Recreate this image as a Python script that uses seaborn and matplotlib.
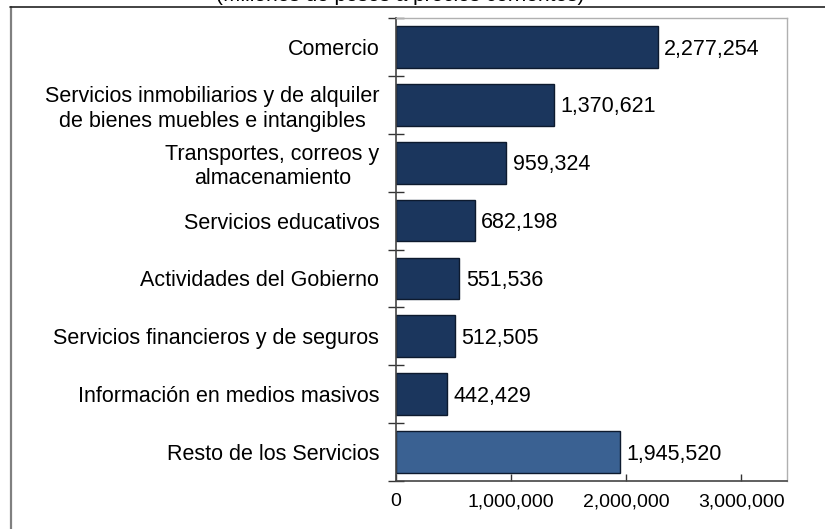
import matplotlib
matplotlib.use("Agg")
import matplotlib.pyplot as plt
import seaborn as sns
import pandas as pd
from matplotlib.lines import Line2D
from matplotlib.ticker import FuncFormatter, FixedLocator

categories = [
    "Comercio",
    "Servicios inmobiliarios y de alquiler\nde bienes muebles e intangibles",
    "Transportes, correos y\nalmacenamiento",
    "Servicios educativos",
    "Actividades del Gobierno",
    "Servicios financieros y de seguros",
    "Información en medios masivos",
    "Resto de los Servicios",
]
values = [2277254, 1370621, 959324, 682198, 551536, 512505, 442429, 1945520]
bar_colors = ["#1b365d"] * 7 + ["#3a6192"]
x_ticks = [0, 1000000, 2000000, 3000000]
title = "(Millones de pesos a precios corrientes)"

sns.set_style("white")
plt.rcParams["font.family"] = ["Liberation Sans", "DejaVu Sans"]

fig = plt.figure(figsize=(8.25, 5.29), dpi=100)
ax = fig.add_axes([396 / 825, 1 - 481 / 529, (787.3 - 396) / 825, (481 - 18) / 529])

df = pd.DataFrame({"cat": categories, "val": values})
sns.barplot(data=df, x="val", y="cat", hue="cat", palette=bar_colors, legend=False,
            orient="h", width=0.72, edgecolor="#0d1a2e", linewidth=1.0, ax=ax, saturation=1)

ax.set_xlim(0, 3400000)
ax.set_ylim(len(categories) - 0.5, -0.5)
ax.set_xlabel("")
ax.set_ylabel("")

ax.xaxis.set_major_locator(FixedLocator(x_ticks))
ax.xaxis.set_major_formatter(FuncFormatter(lambda v, p: f"{int(v):,}"))
ax.tick_params(axis="x", bottom=True, direction="in", length=5, width=1, colors="#333333",
               labelcolor="black", labelsize=14, pad=9)

# y ticks at category boundaries, labels at centers
ax.set_yticks([i + 0.5 for i in range(-1, len(categories))])
ax.set_yticklabels([])
ax.set_yticks(range(len(categories)), minor=True)
ax.set_yticklabels(categories, minor=True, fontsize=15.5, multialignment="center")
ax.tick_params(axis="y", which="major", left=True, direction="inout", length=12, width=1,
               colors="#333333")
ax.tick_params(axis="y", which="minor", left=True, length=0, pad=12, labelcolor="black")

for s in ["left", "bottom"]:
    ax.spines[s].set_color("#444444")
    ax.spines[s].set_linewidth(1.2)
for s in ["top", "right"]:
    ax.spines[s].set_color("#b0b0b0")
    ax.spines[s].set_linewidth(1.0)

for i, v in enumerate(values):
    ax.annotate(f"{v:,}", xy=(v, i), xytext=(4.5, -1.5), textcoords="offset points",
                va="center", ha="left", fontsize=15.5, color="black")

# outer frame
fig.add_artist(Line2D([11 / 825, 11 / 825], [0, 1 - 7 / 529], transform=fig.transFigure,
                      color="#808080", linewidth=1.6))
fig.add_artist(Line2D([10 / 825, 1], [1 - 7 / 529, 1 - 7 / 529], transform=fig.transFigure,
                      color="#222222", linewidth=1.2))

fig.text(400 / 825, 1 - 1.0 / 529, title, ha="center", va="baseline", fontsize=15, color="black")

fig.savefig("out.png", dpi=100)
